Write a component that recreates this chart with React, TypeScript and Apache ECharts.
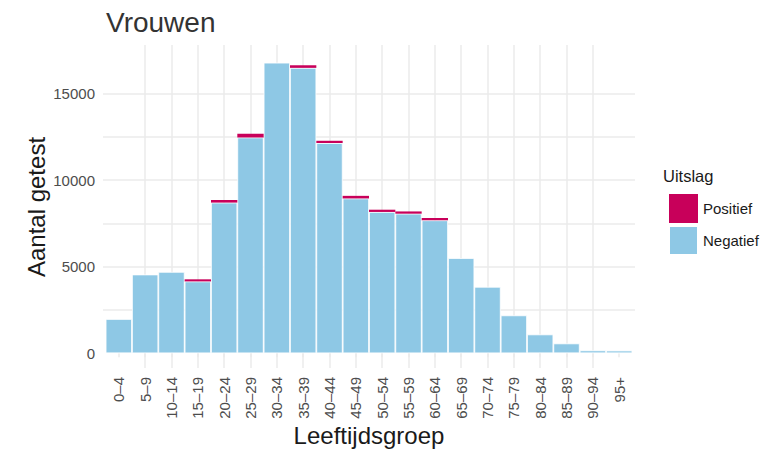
import React, { useEffect, useRef } from "react";
import * as echarts from "echarts";

const categories = ["0–4", "5–9", "10–14", "15–19", "20–24", "25–29", "30–34", "35–39", "40–44", "45–49", "50–54", "55–59", "60–64", "65–69", "70–74", "75–79", "80–84", "85–89", "90–94", "95+"];
const negatief = [1980, 4550, 4700, 4150, 8700, 12460, 16780, 16480, 12140, 8940, 8160, 8060, 7680, 5500, 3840, 2190, 1090, 570, 170, 160];
const positief = [0, 0, 0, 120, 150, 210, 0, 150, 130, 150, 130, 130, 130, 0, 0, 0, 0, 0, 0, 0];
const yMajorTicks = [0, 5000, 10000, 15000];
const yGridValues = [0, 2500, 5000, 7500, 10000, 12500, 15000, 17500];

const FONT = "Liberation Sans, Arial, sans-serif";
const BLUE = "#8EC8E5";
const RED = "#C8005A";
const GRID = "#EBEBEB";

export default function App() {
  const ref = useRef<HTMLDivElement>(null);
  useEffect(() => {
    if (!ref.current) return;
    const chart = echarts.init(ref.current, undefined, { renderer: "svg" });
    const idx = categories.map((_, i) => i);
    chart.setOption({
      animation: false,
      backgroundColor: "#ffffff",
      textStyle: { fontFamily: FONT },
      grid: { left: 103, right: 130, top: 45, bottom: 86, outerBoundsMode: "none" },
      xAxis: {
        type: "value",
        min: -0.6,
        max: 19.6,
        minInterval: 1,
        maxInterval: 1,
        axisLine: { show: false },
        axisTick: { show: true, length: 4, lineStyle: { color: GRID, width: 1.5 }, customValues: idx },
        axisLabel: {
          customValues: idx,
          rotate: 90,
          margin: 9,
          fontSize: 15,
          color: "#4D4D4D",
          fontFamily: FONT,
          formatter: (v: number) => (Number.isInteger(v) && categories[v] !== undefined ? categories[v] : ""),
        },
        splitLine: { show: true, showMinLine: false, showMaxLine: false, lineStyle: { color: GRID, width: 1.5 } },
      },
      yAxis: {
        type: "value",
        min: -850,
        max: 17800,
        axisLine: { show: false },
        axisTick: { show: false, customValues: yGridValues },
        axisLabel: {
          customValues: yMajorTicks,
          margin: 8,
          fontSize: 15,
          color: "#4D4D4D",
          fontFamily: FONT,
          formatter: (v: number) => String(v),
        },
        splitLine: { show: true, showMinLine: false, showMaxLine: false, lineStyle: { color: GRID, width: 1.5 } },
      },
      legend: {
        orient: "vertical",
        left: 663,
        top: 189,
        itemWidth: 29,
        itemHeight: 29,
        itemGap: 2,
        icon: "rect",
        data: ["Positief", "Negatief"],
        textStyle: { fontSize: 15, color: "#1A1A1A", fontFamily: FONT },
      },
      series: [
        {
          name: "Negatief",
          type: "bar",
          stack: "total",
          barWidth: "100%",
          encode: { x: 1, y: 0 },
          itemStyle: { color: BLUE, borderColor: "#ffffff", borderWidth: 0.8 },
          data: negatief.map((v, i) => [v, i]),
        },
        {
          name: "Positief",
          type: "bar",
          stack: "total",
          barWidth: "100%",
          encode: { x: 1, y: 0 },
          itemStyle: { color: RED, borderWidth: 0 },
          data: positief.map((v, i) => [v, i]),
        },
      ],
      graphic: [
        { type: "text", left: 106, top: 8, style: { text: "Vrouwen", fontSize: 28, fill: "#333333", fontFamily: FONT } },
        { type: "text", x: 36, y: 207, rotation: Math.PI / 2, style: { text: "Aantal getest", fontSize: 24, fill: "#1A1A1A", fontFamily: FONT, align: "center", verticalAlign: "middle" } },
        { type: "text", x: 369, y: 435, style: { text: "Leeftijdsgroep", fontSize: 24, fill: "#1A1A1A", fontFamily: FONT, align: "center", verticalAlign: "middle" } },
        { type: "text", x: 663, y: 176, style: { text: "Uitslag", fontSize: 16.5, fill: "#1A1A1A", fontFamily: FONT, align: "left", verticalAlign: "middle" } },
      ],
    });
    return () => chart.dispose();
  }, []);
  return <div ref={ref} style={{ position: "fixed", left: 0, top: 0, width: 765, height: 454 }} />;
}
